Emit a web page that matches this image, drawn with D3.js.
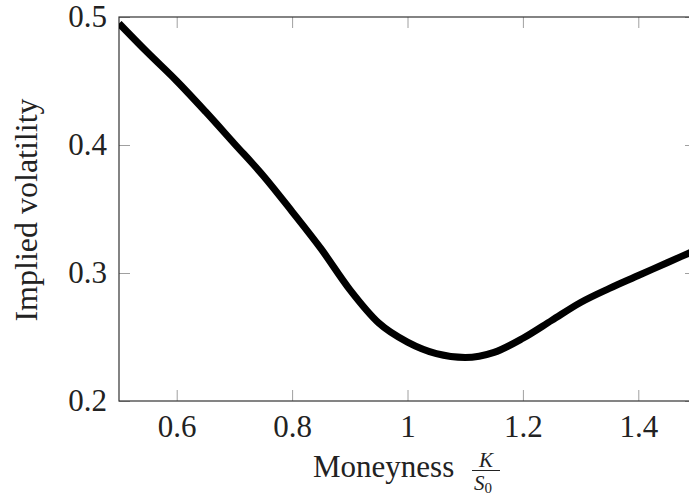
<!DOCTYPE html>
<html>
<head>
<meta charset="UTF-8">
</head>
<body style="margin:0">
<svg id="chart" width="689" height="496"></svg>
<script src="https://cdn.jsdelivr.net/npm/d3@7"></script>
<script>
var moneyness=[0.5,0.55,0.6,0.65,0.7,0.75,0.8,0.85,0.9,0.95,1.0,1.05,1.1,1.15,1.2,1.25,1.3,1.35,1.4,1.45,1.5]
var impliedVol=[0.495,0.472,0.450,0.426,0.401,0.376,0.348,0.319,0.287,0.261,0.246,0.237,0.234,0.238,0.249,0.263,0.277,0.288,0.298,0.308,0.318]
var xTicks=[0.6,0.8,1,1.2,1.4]
var yTicks=[0.2,0.3,0.4,0.5]

var width=689,height=496,margin={top:17,right:-7,bottom:95,left:119}
var serif='"Liberation Serif"'
var svg=d3.select('#chart')
var data=moneyness.map((m,i)=>({m:m,v:impliedVol[i]}))

var x=d3.scaleLinear().domain([0.5,1.5]).range([margin.left,width-margin.right])
var y=d3.scaleLinear().domain([0.2,0.5]).range([height-margin.bottom,margin.top])

svg.append('clipPath').attr('id','plotclip').append('rect')
  .attr('x',x(0.5)).attr('y',y(0.5)).attr('width',x(1.5)-x(0.5)).attr('height',y(0.2)-y(0.5))

var tickLen=11
function ticks(g){
  g.attr('font-family',serif).attr('font-size',31)
  g.selectAll('.domain').remove()
  g.selectAll('line').attr('stroke','#a0a0a0').attr('stroke-width',1)
  g.selectAll('text').attr('font-family',serif).attr('fill','#222')
}

// bottom axis with labels
svg.append('g').attr('transform',`translate(0,${y(0.2)})`)
  .call(d3.axisBottom(x).tickValues(xTicks).tickSize(-tickLen).tickPadding(14).tickFormat(d3.format('')))
  .call(ticks)
// top axis ticks
svg.append('g').attr('transform',`translate(0,${y(0.5)})`)
  .call(d3.axisTop(x).tickValues(xTicks).tickSize(-tickLen).tickFormat(''))
  .call(ticks)
// left axis with labels
svg.append('g').attr('transform',`translate(${x(0.5)},0)`)
  .call(d3.axisLeft(y).tickValues(yTicks).tickSize(-tickLen).tickPadding(12).tickFormat(d3.format('.1f')))
  .call(ticks)
// right axis ticks
svg.append('g').attr('transform',`translate(${x(1.5)},0)`)
  .call(d3.axisRight(y).tickValues(yTicks).tickSize(-tickLen).tickFormat(''))
  .call(ticks)

// frame
svg.append('rect').attr('x',x(0.5)).attr('y',y(0.5)).attr('width',x(1.5)-x(0.5)).attr('height',y(0.2)-y(0.5))
  .attr('fill','none').attr('stroke','#333').attr('stroke-width',1.2)

var line=d3.line().x(d=>x(d.m)).y(d=>y(d.v)).curve(d3.curveMonotoneX)
svg.append('path').datum(data).attr('clip-path','url(#plotclip)')
  .attr('fill','none').attr('stroke','#000').attr('stroke-width',7).attr('stroke-linejoin','round').attr('d',line)

// labels
var labels=[
  {t:'Implied volatility',x:0,y:0,size:32,tr:'translate(37,210) rotate(-90)',anchor:'middle',italic:false},
  {t:'Moneyness',x:313,y:477,size:31,tr:null,anchor:'start',italic:false},
  {t:'K',x:486,y:467,size:21,tr:null,anchor:'middle',italic:true}
]
svg.selectAll('text.lbl').data(labels).join('text').attr('class','lbl')
  .attr('x',d=>d.x).attr('y',d=>d.y).attr('transform',d=>d.tr).attr('text-anchor',d=>d.anchor)
  .attr('font-size',d=>d.size).attr('font-family',serif).attr('font-style',d=>d.italic?'italic':null)
  .attr('fill','#222').text(d=>d.t)
svg.append('line').attr('x1',472).attr('x2',500).attr('y1',470.5).attr('y2',470.5).attr('stroke','#222').attr('stroke-width',1)
var s0=svg.append('text').attr('x',474).attr('y',490).attr('font-family',serif).attr('font-size',21).attr('fill','#222')
s0.append('tspan').attr('font-style','italic').text('S')
s0.append('tspan').attr('font-size',15).attr('dy',3).text('0')
</script>
</body>
</html>
